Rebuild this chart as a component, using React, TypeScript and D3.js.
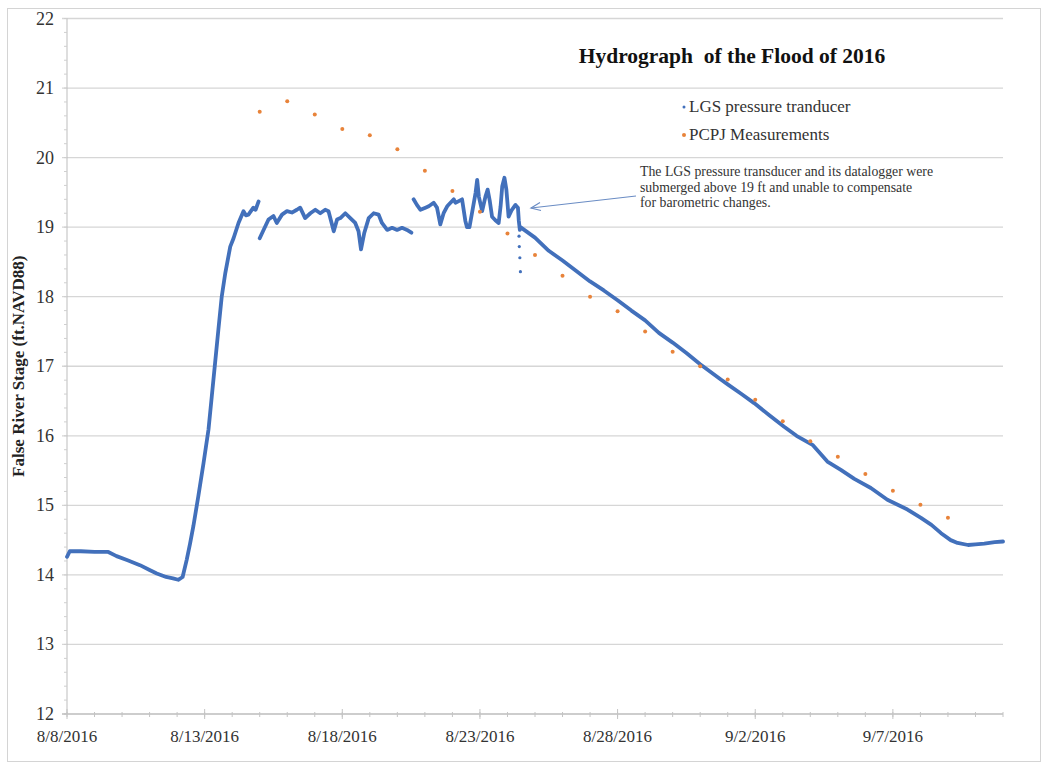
import React from "react";
import * as d3 from "d3";

// days since 8/8/2016 00:00, stage in ft NAVD88 (null = gap in the record)
const lgsDays: number[] = [
  0.0, 0.1, 0.5, 1.0, 1.5, 1.8, 2.2, 2.65, 3.0, 3.26, 3.6, 3.85, 4.04, 4.2, 4.35, 4.47, 4.59, 4.77, 4.96,
  5.14, 5.26, 5.38, 5.5, 5.62, 5.75, 5.93, 6.05, 6.23, 6.41, 6.5, 6.59, 6.77, 6.85, 6.96, 6.98,
  7.0, 7.14, 7.32, 7.5, 7.62, 7.81, 7.99, 8.17, 8.35, 8.47, 8.65, 8.84, 9.02, 9.2, 9.38, 9.5, 9.69, 9.81,
  9.93, 10.11, 10.29, 10.47, 10.59, 10.68, 10.8, 10.96, 11.14, 11.32, 11.44, 11.63, 11.81, 11.99, 12.17,
  12.35, 12.51, 12.55,
  12.59, 12.71, 12.84, 13.02, 13.14, 13.32, 13.44, 13.56, 13.68, 13.81, 13.93, 14.05, 14.11, 14.35, 14.47,
  14.53, 14.62, 14.71, 14.84, 14.9, 14.96, 15.08, 15.2, 15.28, 15.36, 15.44, 15.56, 15.68, 15.75, 15.81,
  15.89, 15.96, 16.01, 16.04, 16.16, 16.29, 16.38, 16.41, 16.45, 16.47,
  17.0, 17.5, 18.0, 18.5, 19.0, 19.5, 20.0, 20.5, 21.0, 21.5, 22.0, 22.5, 23.0, 23.75, 24.0, 24.5, 24.96,
  25.5, 26.05, 26.5, 27.08, 27.62, 28.11, 28.6, 29.2, 29.8, 30.53, 31.02, 31.4, 31.75, 32.1, 32.35, 32.73,
  33.0, 33.32, 33.7, 34.0,
];
const lgsStage: (number | null)[] = [
  14.26, 14.34, 14.34, 14.33, 14.33, 14.27, 14.21, 14.14, 14.07, 14.02, 13.97, 13.95, 13.93, 13.97, 14.22,
  14.45, 14.7, 15.13, 15.61, 16.09, 16.57, 17.05, 17.53, 18.0, 18.34, 18.72, 18.84, 19.06, 19.23, 19.17,
  19.18, 19.28, 19.25, 19.37, null,
  18.84, 18.96, 19.11, 19.16, 19.06, 19.18, 19.23, 19.21, 19.25, 19.28, 19.13, 19.2, 19.25, 19.2, 19.25,
  19.23, 18.94, 19.11, 19.13, 19.2, 19.13, 19.06, 18.94, 18.68, 18.92, 19.13, 19.2, 19.18, 19.06, 18.96,
  18.99, 18.96, 18.99, 18.96, 18.92, null,
  19.4, 19.32, 19.25, 19.28, 19.3, 19.35, 19.28, 19.04, 19.2, 19.3, 19.35, 19.4, 19.35, 19.4, 19.09, 19.0,
  19.0, 19.2, 19.49, 19.68, 19.44, 19.23, 19.44, 19.54, 19.37, 19.15, 19.1, 19.06, 19.3, 19.59, 19.71,
  19.54, 19.3, 19.15, 19.25, 19.32, 19.28, 19.1, 18.96, 19.0,
  18.85, 18.66, 18.52, 18.37, 18.22, 18.09, 17.95, 17.8, 17.66, 17.48, 17.34, 17.19, 17.03, 16.81, 16.74,
  16.6, 16.47, 16.3, 16.13, 16.0, 15.87, 15.63, 15.51, 15.38, 15.25, 15.08, 14.94, 14.82, 14.72, 14.6,
  14.5, 14.46, 14.43, 14.44, 14.45, 14.47, 14.48,
];

// scattered low readings of the transducer on 8/24
const lgsDropDays = [16.42, 16.43, 16.45, 16.47];
const lgsDropStage = [18.87, 18.72, 18.56, 18.36];

// PCPJ measurements, once a day
const pcpjDays = [7, 8, 9, 10, 11, 12, 13, 14, 15, 16, 17, 18, 19, 20, 21, 22, 23, 24, 25, 26, 27, 28, 29, 30, 31, 32];
const pcpjStage = [
  20.66, 20.81, 20.62, 20.41, 20.32, 20.12, 19.81, 19.52, 19.22, 18.91, 18.6, 18.3, 18.0, 17.79, 17.5, 17.21,
  17.0, 16.81, 16.52, 16.21, 15.92, 15.7, 15.45, 15.21, 15.01, 14.82,
];

const xTickLabels = ["8/8/2016", "8/13/2016", "8/18/2016", "8/23/2016", "8/28/2016", "9/2/2016", "9/7/2016"];
const yTicks = [12, 13, 14, 15, 16, 17, 18, 19, 20, 21, 22];

const noteLines = [
  "The LGS pressure transducer and its datalogger were",
  "submerged above 19 ft and unable to compensate",
  "for barometric changes.",
];

const start = new Date(2016, 7, 8);
const toDate = (d: number) => new Date(start.getTime() + d * 86400000);

export default function App() {
  const width = 1049;
  const height = 770;
  const x = d3.scaleTime().domain([start, toDate(34)]).range([67, 1003]);
  const y = d3.scaleLinear().domain([12, 22]).range([714, 18.5]);

  const blue = "#4270bb";
  const orange = "#e8833a";
  const serif = "'Liberation Serif', 'Times New Roman', serif";

  const pts = lgsDays.map((d, i) => ({ d, v: lgsStage[i] }));
  const line = d3
    .line<{ d: number; v: number | null }>()
    .defined((p) => p.v !== null)
    .x((p) => x(toDate(p.d)))
    .y((p) => y(p.v as number));

  const minorY = d3.range(12, 22.001, 0.2);
  const minorX = d3.range(0, 35, 1);
  const majorX = xTickLabels.map((_, i) => i * 5);
  const axisY = y(12);

  return (
    <svg
      width={width}
      height={height}
      style={{ position: "absolute", left: 0, top: 0, background: "#fff" }}
      fontFamily={serif}
    >
      <rect x={7.5} y={8.5} width={1033} height={753} fill="#fff" stroke="#d4d4d4" />

      {/* gridlines */}
      {yTicks.slice(1).map((t) => (
        <line key={t} x1={62} x2={1003} y1={y(t)} y2={y(t)} stroke="#d6d6d6" strokeWidth={1.3} />
      ))}

      {/* y axis */}
      <line x1={67} x2={67} y1={y(22)} y2={axisY} stroke="#bdbdbd" />
      {minorY.map((t) => (
        <line key={"my" + t} x1={64} x2={67} y1={y(t)} y2={y(t)} stroke="#cfcfcf" />
      ))}
      {yTicks.map((t) => (
        <text key={"yl" + t} x={54} y={y(t) + 6} textAnchor="end" fontSize={18} fill="#333">
          {t}
        </text>
      ))}

      {/* x axis */}
      <line x1={62} x2={1003} y1={axisY} y2={axisY} stroke="#bdbdbd" strokeWidth={1.3} />
      {minorX.map((d) => (
        <line key={"mx" + d} x1={x(toDate(d))} x2={x(toDate(d))} y1={axisY - 2} y2={axisY + 3} stroke="#c4c4c4" />
      ))}
      {majorX.map((d) => (
        <line key={"Mx" + d} x1={x(toDate(d))} x2={x(toDate(d))} y1={axisY - 5} y2={axisY + 5} stroke="#c4c4c4" />
      ))}
      {xTickLabels.map((lab, i) => (
        <text key={lab} x={x(toDate(majorX[i]))} y={742} textAnchor="middle" fontSize={17} fill="#333">
          {lab}
        </text>
      ))}

      {/* axis title */}
      <text
        transform={`translate(24,${(y(22) + axisY) / 2}) rotate(-90)`}
        textAnchor="middle"
        fontSize={17}
        fontWeight="bold"
        fill="#222"
      >
        False River Stage (ft.NAVD88)
      </text>

      {/* series */}
      <path d={line(pts) ?? ""} fill="none" stroke={blue} strokeWidth={3.8} strokeLinejoin="round" strokeLinecap="round" />
      {lgsDropDays.map((d, i) => (
        <circle key={"dr" + i} cx={x(toDate(d))} cy={y(lgsDropStage[i])} r={1.6} fill={blue} />
      ))}
      {pcpjDays.map((d, i) => (
        <circle key={"pc" + i} cx={x(toDate(d))} cy={y(pcpjStage[i])} r={2} fill={orange} />
      ))}

      {/* title */}
      <text x={732} y={63} textAnchor="middle" fontSize={21.5} fontWeight="bold" fill="#111">
        {"Hydrograph\u00a0 of the Flood of 2016"}
      </text>

      {/* legend */}
      <circle cx={684} cy={107} r={1.5} fill={blue} />
      <text x={689} y={112} fontSize={17} fill="#333">
        LGS pressure tranducer
      </text>
      <circle cx={684} cy={135} r={2} fill={orange} />
      <text x={689} y={140} fontSize={17} fill="#333">
        PCPJ Measurements
      </text>

      {/* annotation */}
      {noteLines.map((t, i) => (
        <text key={i} x={640} y={176 + i * 15.5} fontSize={13.8} fill="#333">
          {t}
        </text>
      ))}
      <line x1={636} y1={196} x2={531} y2={208} stroke="#6a8cc4" strokeWidth={1.2} />
      <path d="M540,202.5 L531,208 L541,210.5" fill="none" stroke="#6a8cc4" strokeWidth={1.2} />
    </svg>
  );
}
